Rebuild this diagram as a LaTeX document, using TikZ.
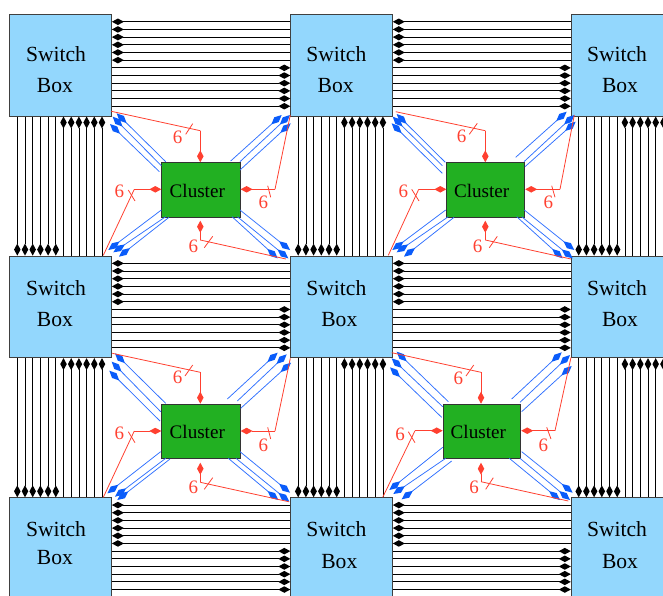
\documentclass[tikz,border=0pt]{standalone}
\usepackage{fontspec}
\setmainfont{Liberation Serif}
\usetikzlibrary{arrows.meta}
\definecolor{sbfill}{HTML}{93D7FD}
\definecolor{clfill}{HTML}{22B022}
\definecolor{redw}{HTML}{FF4030}
\definecolor{bluew}{HTML}{2F70FF}
\definecolor{bluetip}{HTML}{0A5CFA}
\tikzset{
  switchbox/.style={draw=black!75,line width=0.9pt,fill=sbfill,minimum width=101.6pt,minimum height=101.6pt,inner sep=0pt,anchor=north west},
  clusterbox/.style={draw=black!80,line width=0.9pt,fill=clfill,inner sep=0pt,anchor=north west},
  sbtext/.style={anchor=base,inner sep=0pt,font=\fontsize{21.6}{22}\selectfont,text=black},
  cltext/.style={anchor=base,inner sep=0pt,font=\fontsize{19.1}{20}\selectfont,text=black},
  sixtext/.style={inner sep=0pt,font=\fontsize{19}{20}\selectfont,text=redw},
  wire/.style={draw=black,line width=0.8pt,-{Kite[length=12pt,width=6.5pt,inset=6pt,line width=0pt]}},
  redwire/.style={draw=redw,line width=0.8pt},
  redarrow/.style={draw=redw,line width=0.8pt,-{Kite[length=12pt,width=6.5pt,inset=6pt,line width=0pt,color=redw]}},
  bluewire/.style={draw=bluew,line width=0.75pt,-{Kite[length=14pt,width=6.5pt,inset=7pt,line width=0pt,color=bluetip]}},
}
\begin{document}
\begin{tikzpicture}[x=1pt,y=-1pt]
\useasboundingbox (0,0) rectangle (663,595);
\clip (0,0) rectangle (663,595);
% switch boxes
\foreach \r/\yy in {1/14,2/255.6,3/497.3}
  \foreach \c/\xx in {1/9.4,2/290.3,3/570.8}
    \node[switchbox] (sb\r\c) at (\xx,\yy) {};
% switch box labels
\foreach \c/\sx in {1/56,2/336.3,3/617}{
  \node[sbtext] (sw1\c) at (\sx,61) {Switch};
  \node[sbtext] (sw2\c) at (\sx,295) {Switch};
  \node[sbtext] (sw3\c) at (\sx,536) {Switch};
}
\node[sbtext] (bo11) at (55,92) {Box};
\node[sbtext] (bo12) at (335.7,92) {Box};
\node[sbtext] (bo13) at (620,92) {Box};
\node[sbtext] (bo21) at (55,326) {Box};
\node[sbtext] (bo22) at (339.3,326) {Box};
\node[sbtext] (bo23) at (620,326) {Box};
\node[sbtext] (bo31) at (55,564) {Box};
\node[sbtext] (bo32) at (339.3,568) {Box};
\node[sbtext] (bo33) at (620,568) {Box};
% clusters
\node[clusterbox,minimum width=78.4pt,minimum height=54.4pt] (c11) at (161.3,162.3) {};
\node[clusterbox,minimum width=78pt,minimum height=54.4pt] (c12) at (446.3,162.3) {};
\node[clusterbox,minimum width=78.4pt,minimum height=54.6pt] (c21) at (161.3,403.7) {};
\node[clusterbox,minimum width=77.6pt,minimum height=54.6pt] (c22) at (442.7,403.7) {};
\node[cltext] (t11) at (197.3,197) {Cluster};
\node[cltext] (t12) at (481.7,197) {Cluster};
\node[cltext] (t21) at (197.3,438.7) {Cluster};
\node[cltext] (t22) at (478.3,438.7) {Cluster};
% horizontal buses
\foreach \r in {1,2,3}
  \foreach \a/\b in {1/2,2/3}
    \foreach \i in {0,...,11}{
      \pgfmathsetmacro{\dy}{7.75+7.68*\i}
      \ifnum\i<6
        \draw[wire] ([yshift=-\dy pt]sb\r\b.north west) -- ([yshift=-\dy pt]sb\r\a.north east);
      \else
        \draw[wire] ([yshift=-\dy pt]sb\r\a.north east) -- ([yshift=-\dy pt]sb\r\b.north west);
      \fi
    }
% vertical buses
\foreach \a/\b in {1/2,2/3}
  \foreach \c in {1,2,3}
    \foreach \i in {0,...,11}{
      \pgfmathsetmacro{\dx}{7.9+7.7*\i}
      \ifnum\i<6
        \draw[wire] ([xshift=\dx pt]sb\a\c.south west) -- ([xshift=\dx pt]sb\b\c.north west);
      \else
        \draw[wire] ([xshift=\dx pt]sb\b\c.north west) -- ([xshift=\dx pt]sb\a\c.south west);
      \fi
    }
% blue channels (coordinates read at 3x, per crop origin)
\foreach \m/\ox/\oy/\data in {
 a/0/0/{497/485/350/340,484/497/338/350,478/515/330/372,692/483/845/345,720/485/870/345,720/510/872/370,484/630/325/750,497/650/340/757,507/652/357/770,720/630/870/750,712/650/865/775,696/650/833/775},
 b/380/0/{196/487/50/342,187/497/38/350,187/520/35/370,407/472/560/335,432/485/583/345,435/500/587/365,197/630/37/750,205/650/50/757,222/652/72/770,433/630/583/750,425/650/578/775,410/650/548/775},
 c/0/340/{497/190/345/40,482/215/335/65,480/243/328/92,682/177/833/38,712/183/860/43,722/205/873/68,482/335/322/460,497/355/345/470,510/357/352/480,720/335/870/458,708/355/868/485,685/355/835/480},
 d/380/340/{205/185/50/35,188/200/35/55,185/232/30/82,395/177/545/37,420/187/570/45,425/215/575/78,188/322/28/450,197/355/40/462,215/363/65/478,425/335/578/458,420/355/570/480,388/355/540/480}}{
  \foreach \ax/\ay/\bx/\by [count=\n] in \data {
    \coordinate (bt\m\n) at ({\ox+\ax/3},{\oy+\ay/3});
    \coordinate (bh\m\n) at ({\ox+\bx/3},{\oy+\by/3});
    \draw[bluewire] (bt\m\n) -- (bh\m\n);
  }
}
% red channels: cluster 1,1
\coordinate (ra1) at (111.3,111.3); \coordinate (rb1) at (200.3,130.7);
\draw[redwire] (ra1) -- (rb1);
\draw[redarrow] (rb1) -- (rb1 |- c11.north);
\coordinate (ra2) at (290.3,115); \coordinate (rb2) at (275,189.3);
\draw[redwire] (ra2) -- (rb2);
\draw[redarrow] (rb2) -- (rb2 -| c11.east);
\coordinate (ra3) at (103.3,255.3); \coordinate (rb3) at (134.3,189.3);
\draw[redwire] (ra3) -- (rb3);
\draw[redarrow] (rb3) -- (rb3 -| c11.west);
\coordinate (ra4) at (286,259); \coordinate (rb4) at (200.3,240); \coordinate (rc4) at (200.3,220.7);
\draw[redwire] (ra4) -- (rb4);
\draw[redarrow] (rb4) -- (rc4);
% cluster 1,2
\coordinate (ra5) at (395.7,111.7); \coordinate (rb5) at (485.3,130.7);
\draw[redwire] (ra5) -- (rb5);
\draw[redarrow] (rb5) -- (rb5 |- c12.north);
\coordinate (ra6) at (574.3,115); \coordinate (rb6) at (560,189.3);
\draw[redwire] (ra6) -- (rb6);
\draw[redarrow] (rb6) -- (rb6 -| c12.east);
\coordinate (ra7) at (388.3,255.3); \coordinate (rb7) at (418.7,189.3);
\draw[redwire] (ra7) -- (rb7);
\draw[redarrow] (rb7) -- (rb7 -| c12.west);
\coordinate (ra8) at (571,259); \coordinate (rb8) at (485.3,240); \coordinate (rc8) at (485.3,220.7);
\draw[redwire] (ra8) -- (rb8);
\draw[redarrow] (rb8) -- (rc8);
% cluster 2,1
\coordinate (ra9) at (112.3,353.3); \coordinate (rb9) at (200.3,372.3);
\draw[redwire] (ra9) -- (rb9);
\draw[redarrow] (rb9) -- (rb9 |- c21.north);
\coordinate (ra10) at (290.3,358.3); \coordinate (rb10) at (275,431);
\draw[redwire] (ra10) -- (rb10);
\draw[redarrow] (rb10) -- (rb10 -| c21.east);
\coordinate (ra11) at (103.3,497.3); \coordinate (rb11) at (134.3,431);
\draw[redwire] (ra11) -- (rb11);
\draw[redarrow] (rb11) -- (rb11 -| c21.west);
\coordinate (ra12) at (288.7,501.7); \coordinate (rb12) at (200.3,482.3); \coordinate (rc12) at (200.3,462.7);
\draw[redwire] (ra12) -- (rb12);
\draw[redarrow] (rb12) -- (rc12);
% cluster 2,2
\coordinate (ra13) at (391.7,352.7); \coordinate (rb13) at (481,372.3);
\draw[redwire] (ra13) -- (rb13);
\draw[redarrow] (rb13) -- (rb13 |- c22.north);
\coordinate (ra14) at (571,357.3); \coordinate (rb14) at (555,430.7);
\draw[redwire] (ra14) -- (rb14);
\draw[redarrow] (rb14) -- (rb14 -| c22.east);
\coordinate (ra15) at (382.7,497.3); \coordinate (rb15) at (415,430.7);
\draw[redwire] (ra15) -- (rb15);
\draw[redarrow] (rb15) -- (rb15 -| c22.west);
\coordinate (ra16) at (568.3,501); \coordinate (rb16) at (481,481.7); \coordinate (rc16) at (481,462.7);
\draw[redwire] (ra16) -- (rb16);
\draw[redarrow] (rb16) -- (rc16);
% ticks and sixes
\foreach \n/\ax/\ay/\bx/\by/\lx/\ly in {
 1/185.7/134.3/192.7/123.7/177.7/137,
 2/267.7/185.7/270.7/197.3/263.3/202.3,
 3/128.3/190/135/201/119.3/191.3,
 4/204.3/247.7/212.7/236.3/193.3/246,
 5/469.3/134.3/477.3/123.3/461.7/136.7,
 6/551.7/185.7/555/197.3/548.3/202.3,
 7/411.7/189.3/419/201/403.3/191.3,
 8/489.3/247.7/497.3/236.3/477.7/246,
 9/185/376/192.7/365/177.7/377.7,
 10/267.7/427.3/270.7/439/263.3/445,
 11/128.3/431.7/135/442.7/119.3/433.3,
 12/204.3/489.3/212.7/477.7/193.3/487.7,
 13/466/376/473.7/365/458.3/378.3,
 14/546.7/427.3/551/439/543.3/445,
 15/408.3/431.7/415/442.7/400/434,
 16/485.7/489.3/493.3/477.7/474/487.7}{
  \coordinate (ka\n) at (\ax,\ay);
  \coordinate (kb\n) at (\bx,\by);
  \draw[redwire] (ka\n) -- (kb\n);
  \node[sixtext] (six\n) at (\lx,\ly) {6};
}
\end{tikzpicture}
\end{document}
